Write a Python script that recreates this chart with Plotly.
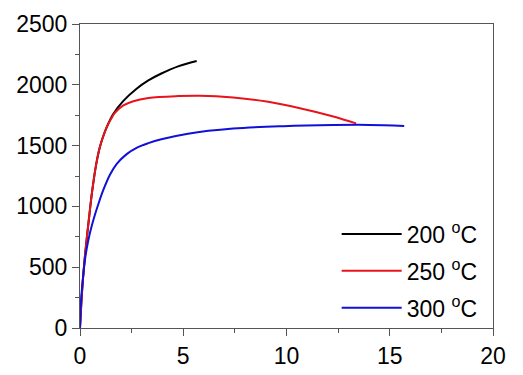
import plotly.graph_objects as go

# Data
x200 = [0, 0.1, 0.2, 0.32, 0.45, 0.57, 0.7, 0.81, 0.95, 1.1, 1.29, 1.61, 2.1, 2.74, 3.31, 3.94, 4.75, 5.65]
y200 = [0, 300, 520, 724, 925, 1100, 1260, 1370, 1480, 1565, 1650, 1760, 1868, 1968, 2036, 2093, 2152, 2196]

x250 = [0, 0.1, 0.2, 0.32, 0.45, 0.57, 0.7, 0.81, 0.95, 1.1, 1.29, 1.5, 1.69, 2.1, 2.58, 3.31, 4.75, 5.81, 7.42, 9.04, 10.65, 12.27, 13.37]
y250 = [0, 300, 520, 724, 925, 1100, 1260, 1370, 1480, 1565, 1650, 1718, 1770, 1830, 1865, 1891, 1907, 1910, 1895, 1862, 1808, 1740, 1683]

x300 = [0, 0.03, 0.07, 0.15, 0.26, 0.4, 0.57, 0.73, 0.89, 1.13, 1.45, 1.78, 2.26, 2.74, 3.31, 3.94, 5.23, 7.42, 9.85, 12.27, 14.0, 15.7]
y300 = [0, 150, 270, 422, 586, 720, 840, 935, 1020, 1135, 1260, 1350, 1430, 1482, 1520, 1552, 1598, 1640, 1660, 1669, 1670, 1662]

names = ["200 <sup>o</sup>C", "250 <sup>o</sup>C", "300 <sup>o</sup>C"]
colors = ["#000000", "#e8131b", "#1010d8"]

fig = go.Figure()
for i, (xs, ys, n, c) in enumerate(zip([x200, x250, x300], [y200, y250, y300], names, colors)):
    fig.add_trace(go.Scatter(x=xs, y=ys, mode="lines", name=n, legendgroup=f"g{i}",
                             line=dict(color=c, width=2, shape="spline", smoothing=1)))

font = dict(family="Arial, Liberation Sans, sans-serif", size=23, color="#000")
axis_common = dict(showline=True, linecolor="#555", linewidth=1.2, mirror=True,
                   ticks="outside", ticklen=7, tickwidth=1.2, tickcolor="#555",
                   showgrid=False, zeroline=False, tickfont=font, automargin=False,
                   minor=dict(ticks="outside", ticklen=4, tickwidth=1, tickcolor="#555"))

fig.update_layout(
    width=523, height=375,
    margin=dict(l=80, r=30, t=24, b=47),
    paper_bgcolor="white", plot_bgcolor="white",
    font=font,
    showlegend=True,
    legend=dict(x=0.975, y=0.38, xanchor="right", yanchor="top",
                bgcolor="rgba(0,0,0,0)", font=font, tracegroupgap=4,
                itemwidth=60),
    xaxis=dict(range=[0, 20], dtick=5, minor_dtick=2.5, **axis_common),
    yaxis=dict(range=[0, 2500], dtick=500, minor_dtick=250, **axis_common),
)

fig.write_html("out.html", config={"displayModeBar": False},
               post_script="document.body.style.margin='0px';")
